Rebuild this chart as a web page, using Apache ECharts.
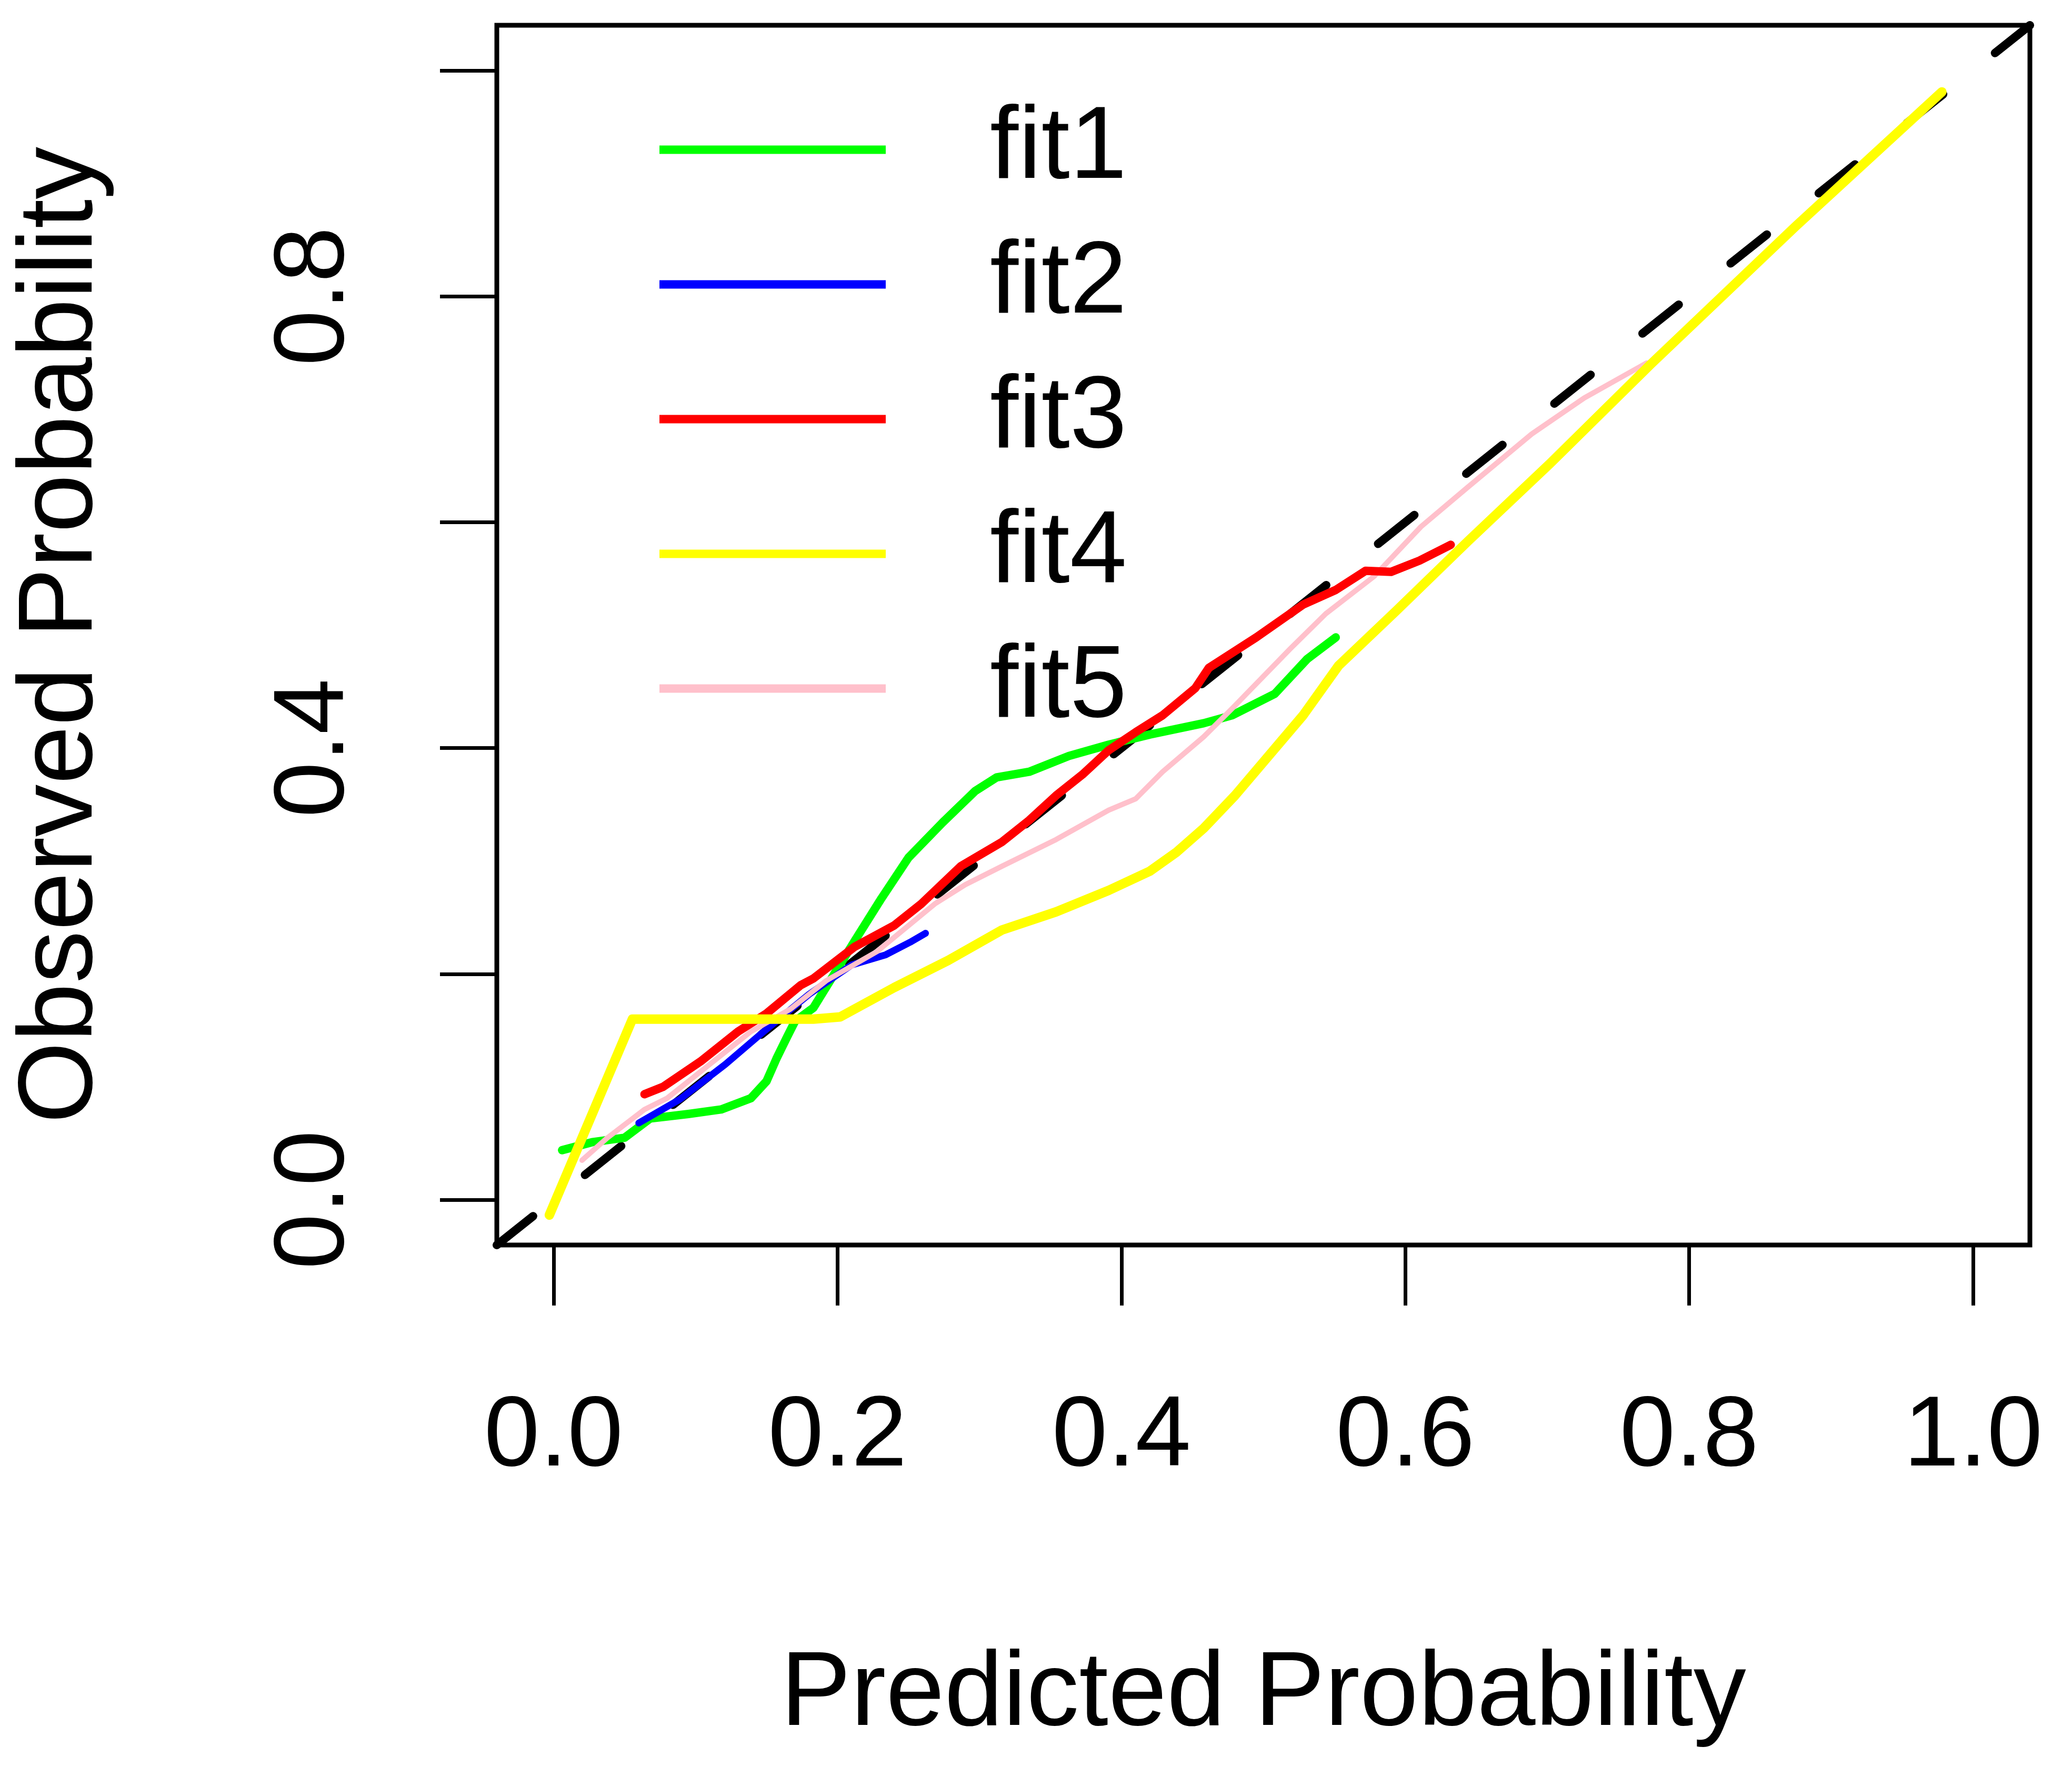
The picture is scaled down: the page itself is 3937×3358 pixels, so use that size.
<!DOCTYPE html>
<html>
<head>
<meta charset="utf-8">
<title>Calibration curves</title>
<script src="https://cdn.jsdelivr.net/npm/echarts@6/dist/echarts.min.js"></script>
<style>
  html, body { margin: 0; padding: 0; background: #fff; }
  #chart { width: 3937px; height: 3358px; }
</style>
</head>
<body>
<div id="chart"></div>
<script>
// tick positions
var xTicks = [0, 0.2, 0.4, 0.6, 0.8, 1.0];
var yTicks = [0, 0.2, 0.4, 0.6, 0.8, 1.0];
var yLabelTicks = [0, 0.4, 0.8];

// reference diagonal (clipped by the plot box)
var diagX = [-0.04, 1.04];
var diagY = [-0.04, 1.04];

// fit1 (green)
var fit1X = [0.006, 0.027, 0.05, 0.068, 0.095, 0.118, 0.139, 0.15, 0.157, 0.164, 0.17, 0.183, 0.212, 0.231, 0.25, 0.274, 0.297, 0.312, 0.335, 0.363, 0.391, 0.42, 0.458, 0.478, 0.508, 0.531, 0.551];
var fit1Y = [0.044, 0.051, 0.055, 0.072, 0.076, 0.08, 0.09, 0.105, 0.125, 0.143, 0.158, 0.17, 0.229, 0.267, 0.303, 0.334, 0.362, 0.374, 0.379, 0.393, 0.403, 0.412, 0.422, 0.429, 0.448, 0.479, 0.498];

// fit2 (blue)
var fit2X = [0.06, 0.089, 0.121, 0.148, 0.18, 0.21, 0.234, 0.251, 0.262];
var fit2Y = [0.068, 0.089, 0.12, 0.149, 0.182, 0.208, 0.217, 0.228, 0.236];

// fit3 (red)
var fit3X = [0.064, 0.077, 0.1035, 0.13, 0.15, 0.174, 0.183, 0.212, 0.24, 0.259, 0.287, 0.316, 0.335, 0.354, 0.3725, 0.391, 0.41, 0.429, 0.452, 0.4616, 0.495, 0.528, 0.551, 0.572, 0.59, 0.61, 0.632];
var fit3Y = [0.0935, 0.1, 0.1225, 0.149, 0.165, 0.19, 0.196, 0.224, 0.243, 0.262, 0.2955, 0.317, 0.336, 0.358, 0.3765, 0.398, 0.414, 0.429, 0.453, 0.471, 0.498, 0.527, 0.54, 0.557, 0.556, 0.566, 0.58];

// fit4 (yellow)
var fit4X = [-0.003, 0.0555, 0.1425, 0.183, 0.202, 0.24, 0.278, 0.316, 0.354, 0.391, 0.42, 0.439, 0.458, 0.48, 0.528, 0.553, 0.594, 0.644, 0.702, 0.773, 0.875, 0.978];
var fit4Y = [-0.0135, 0.16, 0.16, 0.16, 0.162, 0.188, 0.212, 0.239, 0.255, 0.274, 0.291, 0.308, 0.329, 0.358, 0.429, 0.473, 0.522, 0.583, 0.652, 0.74, 0.862, 0.981];

// fit5 (pink)
var fit5X = [0.02, 0.038, 0.064, 0.08, 0.11, 0.139, 0.167, 0.192, 0.228, 0.2685, 0.29, 0.316, 0.354, 0.391, 0.41, 0.429, 0.458, 0.478, 0.519, 0.544, 0.578, 0.611, 0.644, 0.689, 0.726, 0.77];
var fit5Y = [0.035, 0.055, 0.08, 0.09, 0.12, 0.149, 0.169, 0.194, 0.22, 0.262, 0.279, 0.2955, 0.319, 0.345, 0.355, 0.379, 0.41, 0.435, 0.488, 0.519, 0.552, 0.596, 0.631, 0.678, 0.71, 0.741];

var fitNames = ['fit1', 'fit2', 'fit3', 'fit4', 'fit5'];
var fitColors = ['#00ff00', '#0000ff', '#ff0000', '#ffff00', '#ffc0cb'];

function zip(xs, ys) {
    return xs.map(function (x, i) { return [x, ys[i]]; });
}

function fitSeries(name, xs, ys, color, width, z) {
    return {
        name: name,
        type: 'line',
        data: zip(xs, ys),
        symbol: 'none',
        z: z,
        lineStyle: { color: color, width: width, cap: 'round', join: 'round' },
        itemStyle: { color: color }
    };
}

var font = 'Liberation Sans, Arial, sans-serif';

var option = {
    backgroundColor: '#ffffff',
    animation: false,
    grid: {
        left: 944, right: 80, top: 48, bottom: 992,
        show: true, borderColor: '#000', borderWidth: 9,
        backgroundColor: 'transparent'
    },
    legend: {
        data: fitNames,
        orient: 'vertical',
        left: 1248, top: 162,
        itemWidth: 430, itemHeight: 16, itemGap: 21,
        icon: 'rect',
        textStyle: {
            fontFamily: font, fontSize: 195, lineHeight: 195, color: '#000',
            padding: [40, 0, 0, 193]
        }
    },
    xAxis: {
        type: 'value', min: -0.04, max: 1.04,
        name: 'Predicted Probability', nameLocation: 'middle', nameGap: 757,
        nameTextStyle: { fontFamily: font, fontSize: 200, color: '#000' },
        axisLine: { show: false, onZero: false },
        splitLine: { show: false },
        axisTick: {
            show: true, inside: false, length: 115, customValues: xTicks,
            lineStyle: { color: '#000', width: 7 }
        },
        axisLabel: {
            customValues: xTicks, margin: 272,
            fontFamily: font, fontSize: 190, color: '#000',
            formatter: function (v) { return v.toFixed(1); }
        }
    },
    yAxis: {
        type: 'value', min: -0.04, max: 1.04,
        name: 'Observed Probability', nameLocation: 'middle', nameGap: 725,
        nameTextStyle: { fontFamily: font, fontSize: 200, color: '#000' },
        axisLine: { show: false, onZero: false },
        splitLine: { show: false },
        axisTick: {
            show: true, inside: false, length: 108, customValues: yTicks,
            lineStyle: { color: '#000', width: 7 }
        },
        axisLabel: {
            customValues: yLabelTicks, margin: 249, rotate: 90,
            fontFamily: font, fontSize: 190, color: '#000',
            formatter: function (v) { return v.toFixed(1); }
        }
    },
    series: [
        {
            name: 'diagonal',
            type: 'line',
            data: zip(diagX, diagY),
            symbol: 'none',
            z: 1,
            lineStyle: { color: '#000', width: 16, type: [88, 126], cap: 'round' }
        },
        fitSeries(fitNames[0], fit1X, fit1Y, fitColors[0], 16, 2),
        fitSeries(fitNames[1], fit2X, fit2Y, fitColors[1], 13, 3),
        fitSeries(fitNames[4], fit5X, fit5Y, fitColors[4], 10, 4),
        fitSeries(fitNames[2], fit3X, fit3Y, fitColors[2], 16, 5),
        fitSeries(fitNames[3], fit4X, fit4Y, fitColors[3], 18, 6)
    ]
};

var chart = echarts.init(document.getElementById('chart'));
chart.setOption(option);
</script>
</body>
</html>
